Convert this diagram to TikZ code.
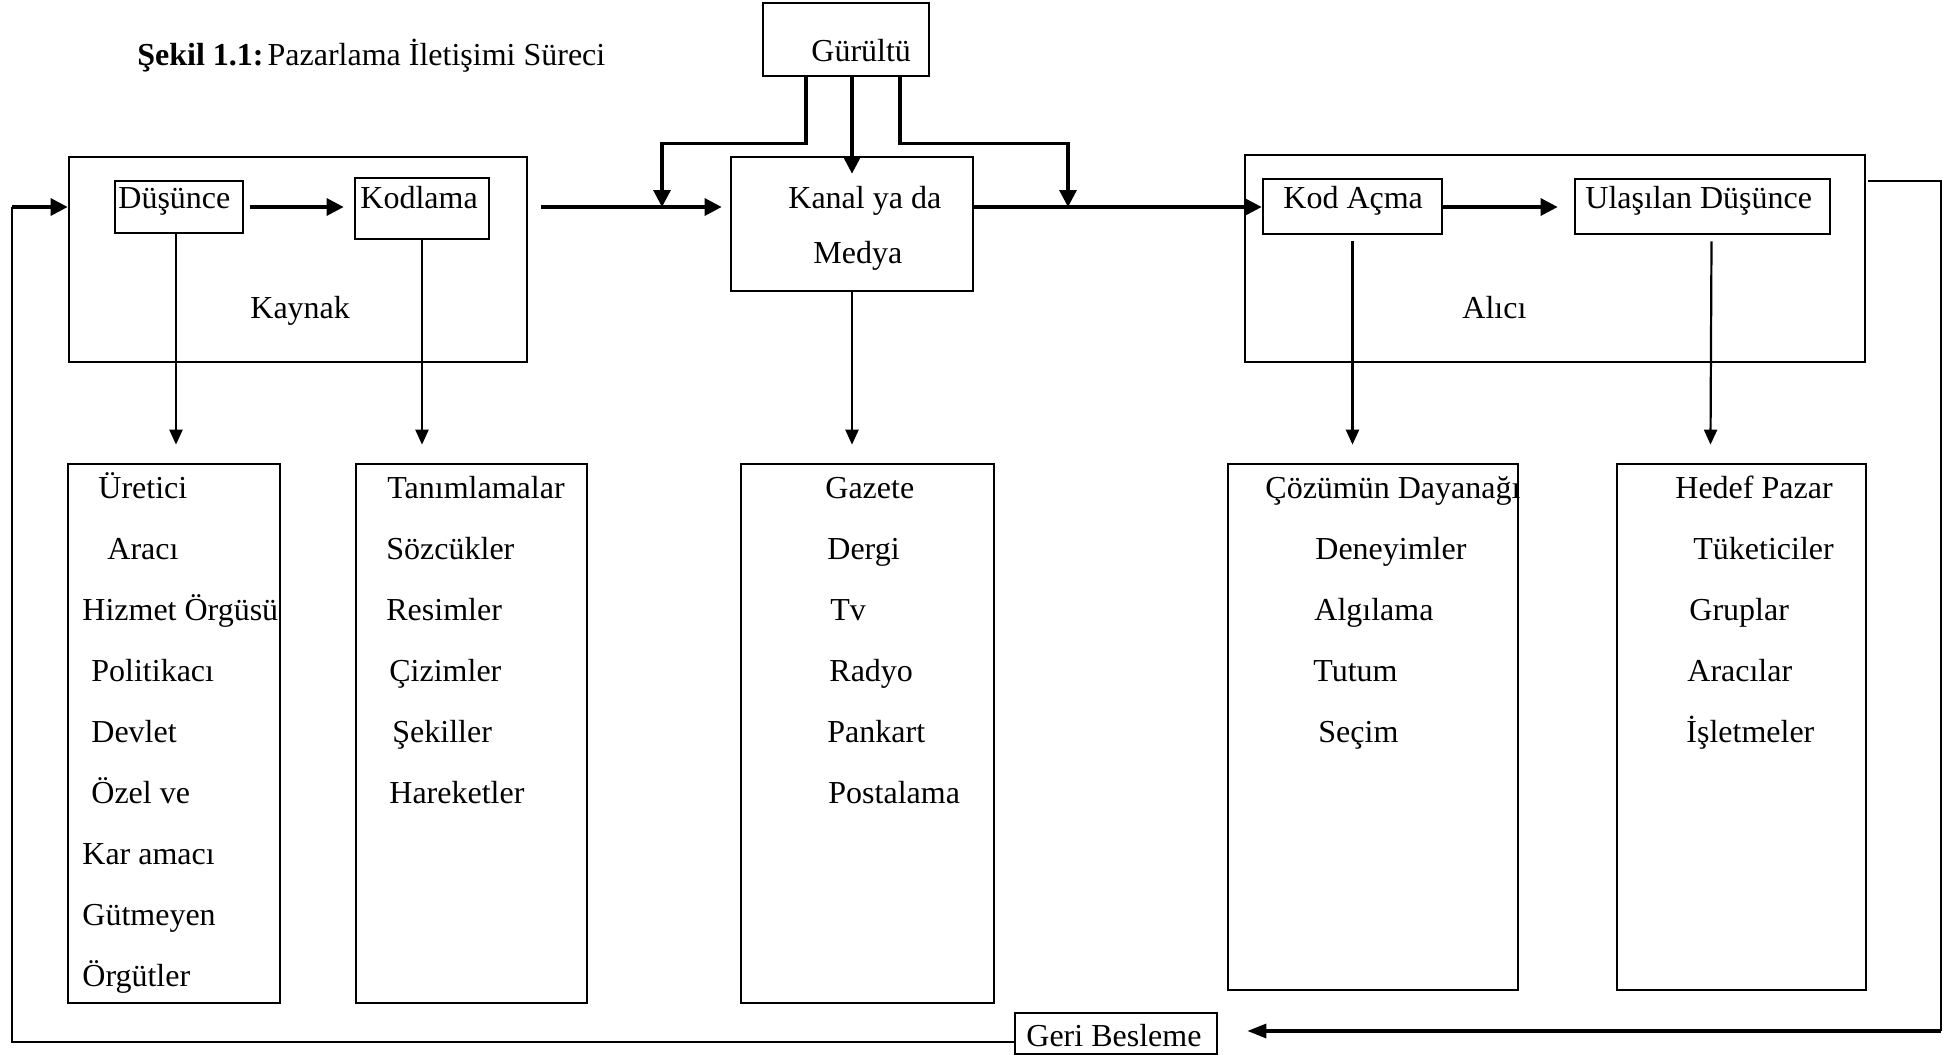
\documentclass[tikz,border=0pt]{standalone}
\usepackage{fontspec}
\setmainfont{Liberation Serif}
\usetikzlibrary{arrows.meta,fit,calc}
\begin{document}
\begin{tikzpicture}[x=0.5pt,y=-0.5pt,
  frame/.style={draw,line width=1.35pt,inner sep=0pt},
  lbl/.style={inner sep=0pt,anchor=base west,font=\fontsize{16}{19}\selectfont},
  flow/.style={line width=1.6pt,-{Triangle[length=8.5pt,width=8.5pt]}},
  down/.style={line width=1.1pt,-{Triangle[length=7.5pt,width=6.5pt]}},
  backarrow/.style={line width=1.6pt,-{Triangle[length=9.5pt,width=7pt]}},
  fb/.style={line width=0.9pt},
  thinfb/.style={line width=0.55pt}]
\useasboundingbox (0,0) rectangle (1950,1056);

% labels and list texts
\node[lbl] (title) at (137,65) {\textbf{Şekil 1.1:}\kern2pt Pazarlama İletişimi Süreci};
\node[lbl] (tg) at (811,61) {Gürültü};
\node[lbl] (tk1) at (788,208) {Kanal ya da};
\node[lbl] (tk2) at (813,263) {Medya};
\node[lbl] (td) at (118,208) {Düşünce};
\node[lbl] (tkod) at (360,208) {Kodlama};
\node[lbl] (tkay) at (250,318) {Kaynak};
\node[lbl] (tkac) at (1283,208) {Kod Açma};
\node[lbl] (tul) at (1585,208) {Ulaşılan Düşünce};
\node[lbl] (tal) at (1462,318) {Alıcı};
\node[lbl] (tgb) at (1026,1046) {Geri Besleme};

\foreach \px/\t [count=\i] in {98/Üretici,107/Aracı,82/Hizmet Örgüsü,91/Politikacı,91/Devlet,91/Özel ve,82/Kar amacı,82/Gütmeyen,82/Örgütler}
  \node[lbl] (la\i) at (\px,{498+61*(\i-1)}) {\t};
\foreach \px/\t [count=\i] in {387/Tanımlamalar,386/Sözcükler,386/Resimler,389/Çizimler,392/Şekiller,389/Hareketler}
  \node[lbl] (lb\i) at (\px,{498+61*(\i-1)}) {\t};
\foreach \px/\t [count=\i] in {825/Gazete,827/Dergi,830/Tv,829/Radyo,827/Pankart,828/Postalama}
  \node[lbl] (lc\i) at (\px,{498+61*(\i-1)}) {\t};
\foreach \px/\t [count=\i] in {1265/Çözümün Dayanağı,1315/Deneyimler,1314/Algılama,1313/Tutum,1318/Seçim}
  \node[lbl] (ld\i) at (\px,{498+61*(\i-1)}) {\t};
\foreach \px/\t [count=\i] in {1675/Hedef Pazar,1693/Tüketiciler,1689/Gruplar,1687/Aracılar,1686/İşletmeler}
  \node[lbl] (le\i) at (\px,{498+61*(\i-1)}) {\t};

% boxes
\node[frame,fit={(763,3)(929,76)}] (gurultu) {};
\node[frame,fit={(731,157)(973,291)}] (kanal) {};
\node[frame,fit={(69,157)(527,362)}] (kaynak) {};
\node[frame,fit={(115,181)(243,233)}] (dusunce) {};
\node[frame,fit={(355,178)(489,239)}] (kodlama) {};
\node[frame,fit={(1245,155)(1865,362)}] (alici) {};
\node[frame,fit={(1263,179)(1442,234)}] (kodacma) {};
\node[frame,fit={(1575,179)(1830,234)}] (ulasilan) {};
\node[frame,fit={(68,464)(280,1003)}] (b1) {};
\node[frame,fit={(356,464)(587,1003)}] (b2) {};
\node[frame,fit={(741,464)(994,1003)}] (b3) {};
\node[frame,fit={(1228,464)(1518,990)}] (b4) {};
\node[frame,fit={(1617,464)(1866,990)}] (b5) {};
\node[frame,fit={(1015,1013)(1217,1054)}] (geri) {};

% main flow
\coordinate (mainL) at (662,207);
\coordinate (mainR) at (1068,207);
\draw[flow] ($(dusunce.east)+(6,0)$) -- ($(kodlama.west |- dusunce.east)+(-10,0)$);
\draw[flow] ($(kaynak.east |- dusunce.east)+(13,0)$) -- ($(kanal.west |- dusunce.east)+(-8,0)$);
\draw[flow] (kanal.east |- dusunce.east) -- (kodacma.west |- dusunce.east);
\draw[flow] (kodacma.east |- dusunce.east) -- ($(ulasilan.west |- dusunce.east)+(-16,0)$);

% noise
\draw[flow] ($(gurultu.south)+(-40,0)$) -- ++(0,66) -| (mainL);
\draw[flow] (gurultu.south -| kanal.north) -- ($(kanal.north)+(0,18)$);
\draw[flow] ($(gurultu.south)+(54,0)$) -- ++(0,66) -| (mainR);

% down arrows
\draw[down] ($(dusunce.south)+(-3,0)$) -- ($(dusunce.south |- b1.north)+(-3,-18)$);
\draw[down] (kodlama.south) -- ($(kodlama.south |- b2.north)+(0,-18)$);
\draw[down] (kanal.south) -- ($(kanal.south |- b3.north)+(0,-18)$);
\draw[down] ($(kodacma.south)+(0,6)$) -- ($(kodacma.south |- b4.north)+(0,-18)$);
\draw[down] ($(ulasilan.south)+(9,6)$) -- ($(ulasilan.south |- b5.north)+(8,-18)$);

% feedback
\coordinate (fbA) at (1868,181);
\coordinate (fbB) at (1941,1031);
\coordinate (fbD) at (12,207);
\draw[thinfb] (fbA) -| (fbB);
\draw[backarrow] (fbB) -- ($(geri.east |- fbB)+(29,0)$);
\draw[fb] ($(geri.west)+(0,8.5)$) -| (fbD);
\draw[flow] (fbD) -- (kaynak.west |- dusunce.east);
\end{tikzpicture}
\end{document}
